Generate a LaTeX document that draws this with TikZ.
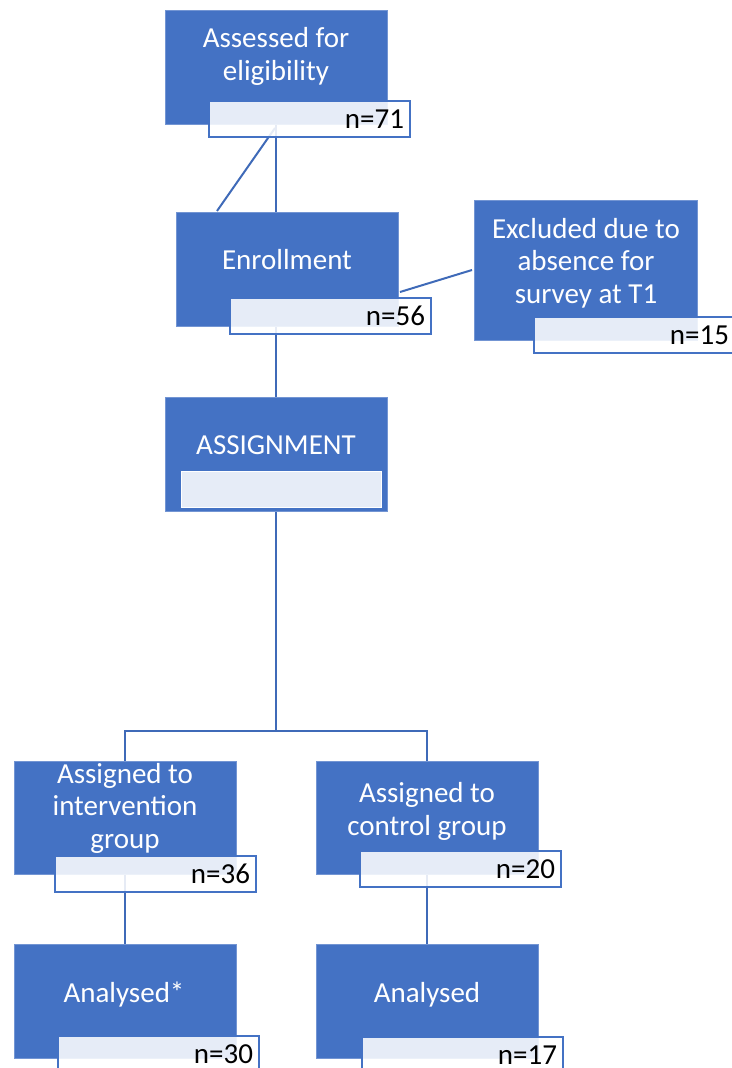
\documentclass[tikz,border=0pt]{standalone}
\usepackage{fontspec}
\setmainfont{Carlito}
\usetikzlibrary{backgrounds}
\definecolor{boxblue}{HTML}{4472C4}
\definecolor{linec}{HTML}{3F6AB8}
\begin{document}
\begin{tikzpicture}[x=1pt,y=-1pt,
  bluebox/.style={rectangle, anchor=north west, fill=boxblue, draw=boxblue!75!white,
    line width=0.8pt, inner sep=0pt, outer sep=0pt, minimum width=222pt, minimum height=114pt},
  btext/.style={anchor=base, align=center, text=white, inner sep=0pt,
    font=\fontsize{29}{32.5}\selectfont},
  labbox/.style={rectangle, anchor=north west, draw=boxblue, line width=2pt,
    fill=white, fill opacity=0.87, text opacity=1, outer sep=0pt, inner xsep=6pt, inner ysep=0pt,
    text width=189pt, align=right, minimum height=36pt, text height=19pt, text depth=0pt,
    font=\fontsize{29}{32.5}\selectfont},
  conn/.style={draw=linec, line width=2pt}
]
\useasboundingbox (0,0) rectangle (731,1068);

% blue boxes
\node[bluebox] (ass) at (165,10) {};
\node[bluebox] (enr) at (176,212) {};
\node[bluebox, minimum width=223pt, minimum height=140pt] (exc) at (474,200) {};
\node[bluebox] (asg) at (165,397) {};
\node[bluebox, minimum height=113pt] (int) at (14,761) {};
\node[bluebox, minimum height=113pt] (ctl) at (316,761) {};
\node[bluebox] (an1) at (14,944) {};
\node[bluebox] (an2) at (316,944) {};

% texts (base anchor = baseline of the last line)
\node[btext] (tass) at (276,80) {Assessed for\\eligibility};
\node[btext] (tenr) at (287,269) {Enrollment};
\node[btext] (texc) at (586,303) {Excluded due to\\absence for\\survey at T1};
\node[btext] (tasg) at (276,454) {ASSIGNMENT};
\node[btext] (tint) at (125,848) {Assigned to\\intervention\\group};
\node[btext] (tctl) at (427,835) {Assigned to\\control group};
\node[btext] (tan1) at (124,1002) {Analysed*};
\node[btext] (tan2) at (427,1002) {Analysed};

% label boxes
\node[labbox] (lass) at (209,101) {n=71};
\node[labbox] (lenr) at (230,298) {n=56};
\node[labbox] (lexc) at (534,317) {n=15};
\node[rectangle, anchor=north west, fill=white, fill opacity=0.87, draw=white, line width=0.5pt,
  inner sep=0pt, outer sep=0pt, minimum width=200pt, minimum height=36pt] (lasg) at (181,471) {};
\node[labbox] (lint) at (55,856) {n=36};
\node[labbox] (lctl) at (360,851) {n=20};
\node[labbox] (lan1) at (58,1036) {n=30};
\node[labbox] (lan2) at (362,1037) {n=17};

\coordinate (dl) at (217,211);
\coordinate (split) at (276,731);

\begin{scope}[on background layer]
  \draw[conn] (ass.south) -- (ass.south |- enr.north);
  \draw[conn] ([shift={(-1,4)}]ass.south) -- (dl);
  \draw[conn] ([shift={(2,-34)}]enr.south east) -- ([xshift=-2pt]exc.west);
  \draw[conn] (enr.south -| asg.north) -- (asg.north);
  \draw[conn] (asg.south) -- (split);
  \draw[conn] (int.north) |- (split) -| (ctl.north);
  \draw[conn] (int.south) -- (an1.north);
  \draw[conn] (ctl.south) -- (an2.north);
\end{scope}
\end{tikzpicture}
\end{document}
